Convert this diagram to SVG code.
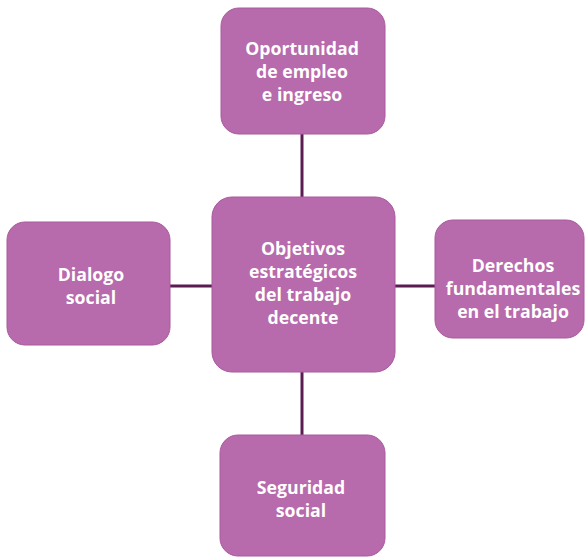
<svg xmlns="http://www.w3.org/2000/svg" width="586" height="557" viewBox="0 0 586 557">
<style>
.box{fill:#b76aac;stroke:#a85a9c;stroke-width:1}
.lbl{font-family:"Open Sans","Noto Sans",sans-serif;font-weight:700;font-size:17.7px;fill:#ffffff;text-anchor:middle}
.con{stroke:#5b1c52;stroke-width:3;fill:none}
</style>
<rect width="586" height="557" fill="#ffffff"/>
<g id="connectors">
<line class="con" x1="302" y1="134" x2="302" y2="198"/>
<line class="con" x1="302" y1="371" x2="302" y2="436"/>
<line class="con" x1="169" y1="286" x2="213" y2="286"/>
<line class="con" x1="394" y1="286" x2="436" y2="286"/>
</g>
<g id="n-top">
<rect class="box" x="221" y="8" width="164" height="126" rx="18"/>
<text class="lbl" x="302" y="55">Oportunidad</text>
<text class="lbl" x="302" y="78">de empleo</text>
<text class="lbl" x="302" y="101">e ingreso</text>
</g>
<g id="n-center">
<rect class="box" x="212" y="197" width="183" height="175" rx="20"/>
<text class="lbl" x="303" y="255">Objetivos</text>
<text class="lbl" x="303" y="278">estratégicos</text>
<text class="lbl" x="303" y="301">del trabajo</text>
<text class="lbl" x="303" y="324">decente</text>
</g>
<g id="n-left">
<rect class="box" x="7" y="222" width="163" height="123" rx="18"/>
<text class="lbl" x="91" y="281">Dialogo</text>
<text class="lbl" x="91" y="304">social</text>
</g>
<g id="n-right">
<rect class="box" x="435" y="220" width="149" height="118" rx="18"/>
<text class="lbl" x="513" y="272">Derechos</text>
<text class="lbl" x="513" y="295">fundamentales</text>
<text class="lbl" x="513" y="318">en el trabajo</text>
</g>
<g id="n-bottom">
<rect class="box" x="220" y="435" width="165" height="121" rx="18"/>
<text class="lbl" x="301" y="494">Seguridad</text>
<text class="lbl" x="301" y="517">social</text>
</g>
</svg>
